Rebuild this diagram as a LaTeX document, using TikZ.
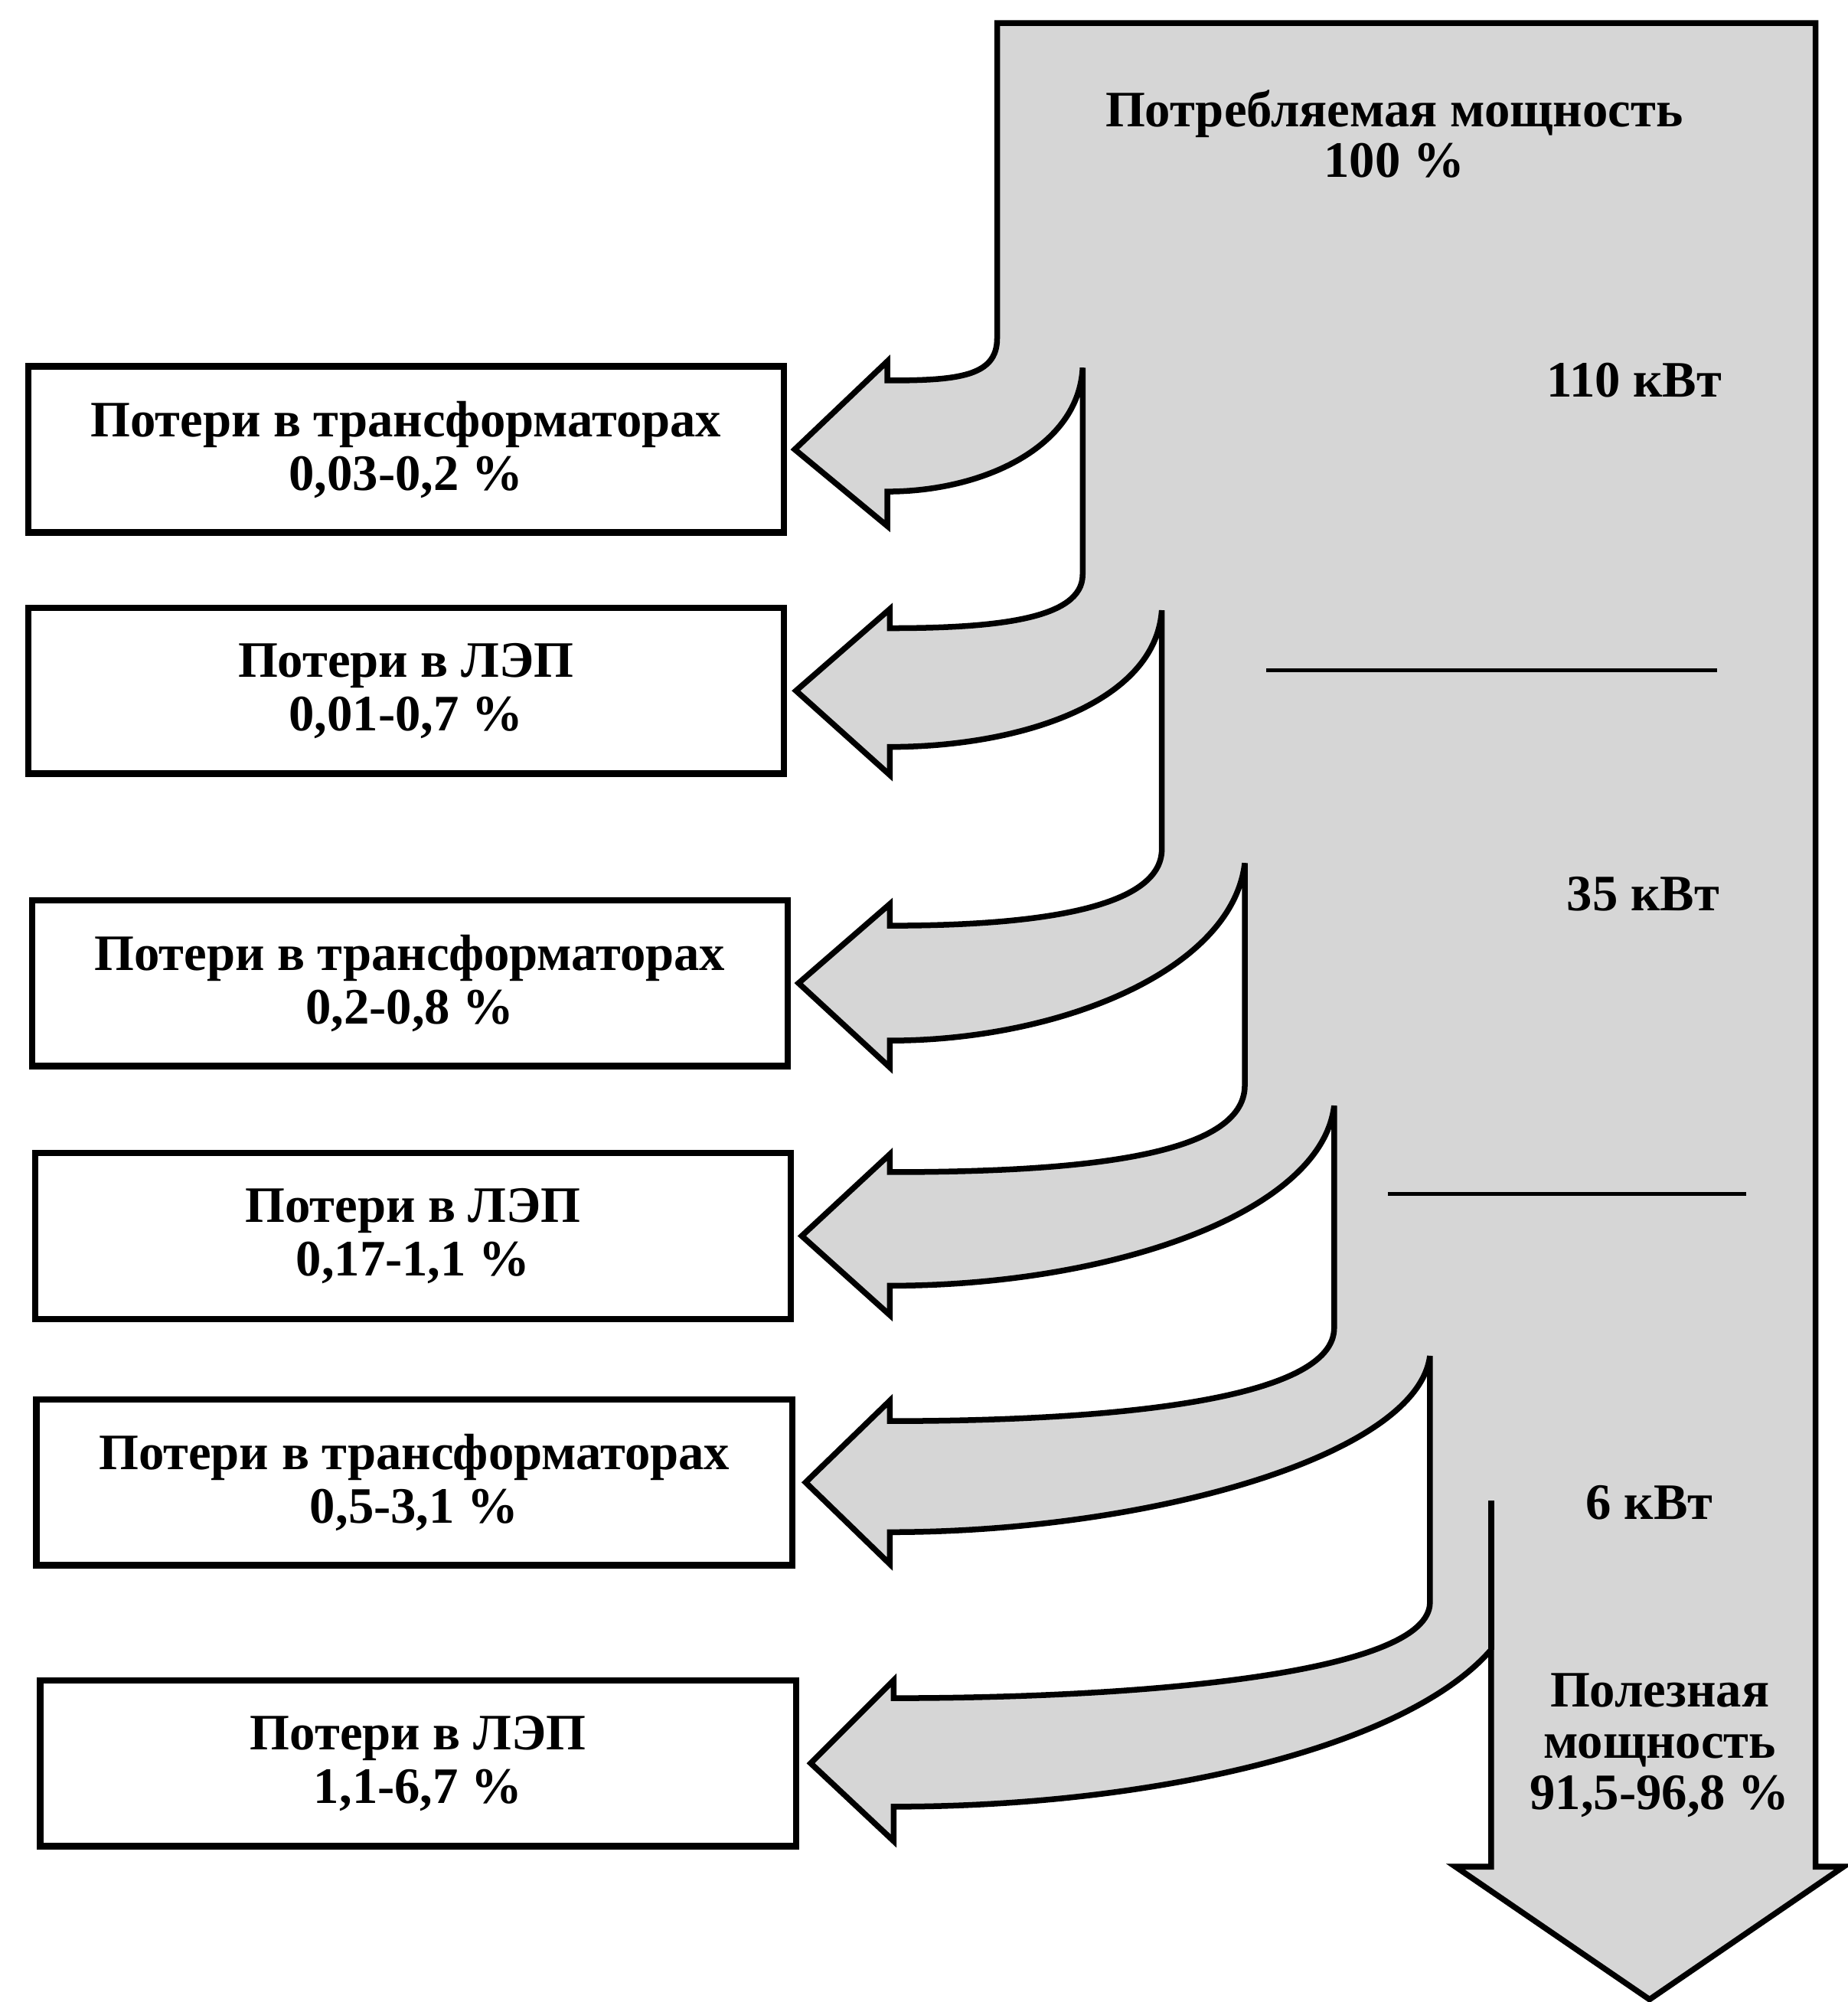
\documentclass[tikz,border=0pt]{standalone}
\usepackage{fontspec}
\setmainfont{Liberation Serif}
\definecolor{flowgray}{gray}{0.84}
\begin{document}
\begin{tikzpicture}[x=1pt,y=-1pt,
  lossbox/.style={draw, line width=5pt, minimum width=592pt, minimum height=130pt,
    inner sep=0pt, align=center, font=\bfseries\fontsize{40}{42}\selectfont},
  flow/.style={draw, line width=4.5pt, fill=flowgray, miter limit=4},
  lbl/.style={align=center, font=\bfseries\fontsize{40}{40}\selectfont},
  sep/.style={line width=3pt}]
\useasboundingbox (0,0) rectangle (1447,1568);

% loss boxes
\node[lossbox] (b1) at (318,352)    {Потери в трансформаторах\\0,03-0,2 \%};
\node[lossbox] (b2) at (318,541)    {Потери в ЛЭП\\0,01-0,7 \%};
\node[lossbox] (b3) at (321,770)    {Потери в трансформаторах\\0,2-0,8 \%};
\node[lossbox] (b4) at (323.5,968)  {Потери в ЛЭП\\0,17-1,1 \%};
\node[lossbox] (b5) at (324.5,1161) {Потери в трансформаторах\\0,5-3,1 \%};
\node[lossbox] (b6) at (327.5,1381) {Потери в ЛЭП\\1,1-6,7 \%};

% arrow tips touching the boxes
\coordinate (t1) at ([xshift=6pt]b1.east);
\coordinate (t2) at ([xshift=7pt]b2.east);
\coordinate (t3) at ([xshift=6pt]b3.east);
\coordinate (t4) at ([xshift=6pt]b4.east);
\coordinate (t5) at ([xshift=8pt]b5.east);
\coordinate (t6) at ([xshift=9pt]b6.east);
\coordinate (j6) at (1168,1292);
\coordinate (s6) at (1168,1175);

% power flow: main arrow with the six branching loss arrows
\path[flow] (781,18) -- (1422,18) -- (1422,1462) -- (1444,1462) -- (1292,1566)
  -- (1140,1462) -- (1168,1462) -- (j6)
  .. controls (1100,1370) and (900,1415) .. (700,1415)
  -- (700,1442) -- (t6) -- (700,1316) -- (700,1330)
  .. controls (900,1330) and (1120,1310) .. (1120,1255)
  -- (1120,1062)
  .. controls (1110,1140) and (900,1200) .. (697,1200)
  -- (697,1225) -- (t5) -- (697,1097) -- (697,1113)
  .. controls (880,1113) and (1045,1095) .. (1045,1040)
  -- (1045,866)
  .. controls (1035,950) and (870,1007) .. (697,1007)
  -- (697,1030) -- (t4) -- (697,904) -- (697,918)
  .. controls (850,918) and (975,905) .. (975,850)
  -- (975,676)
  .. controls (965,760) and (830,815) .. (697,815)
  -- (697,836) -- (t3) -- (697,708) -- (697,725)
  .. controls (810,725) and (910,712) .. (910,665)
  -- (910,478)
  .. controls (905,550) and (800,585) .. (697,585)
  -- (697,607) -- (t2) -- (697,477) -- (697,492)
  .. controls (780,492) and (848,485) .. (848,450)
  -- (848,288)
  .. controls (845,350) and (770,385) .. (695,385)
  -- (695,412) -- (t1) -- (695,283) -- (695,298)
  .. controls (750,298) and (781,295) .. (781,265)
  -- cycle;
\draw[line width=4.5pt] (j6) -- (s6);

% voltage level separators
\coordinate (h1a) at (992,525);  \coordinate (h1b) at (1345,525);
\coordinate (h2a) at (1087,935); \coordinate (h2b) at (1368,935);
\draw[sep] (h1a) -- (h1b);
\draw[sep] (h2a) -- (h2b);

% labels on the main flow
\node[lbl] (pin)  at (1092,105) {Потребляемая мощность\\100 \%};
\node[lbl] (k110) at (1280,298) {110 кВт};
\node[lbl] (k35)  at (1287,700) {35 кВт};
\node[lbl] (k6)   at (1292,1177) {6 кВт};
\node[lbl] (pout) at (1300,1367) {Полезная\\мощность\\91,5-96,8 \%};
\end{tikzpicture}
\end{document}
